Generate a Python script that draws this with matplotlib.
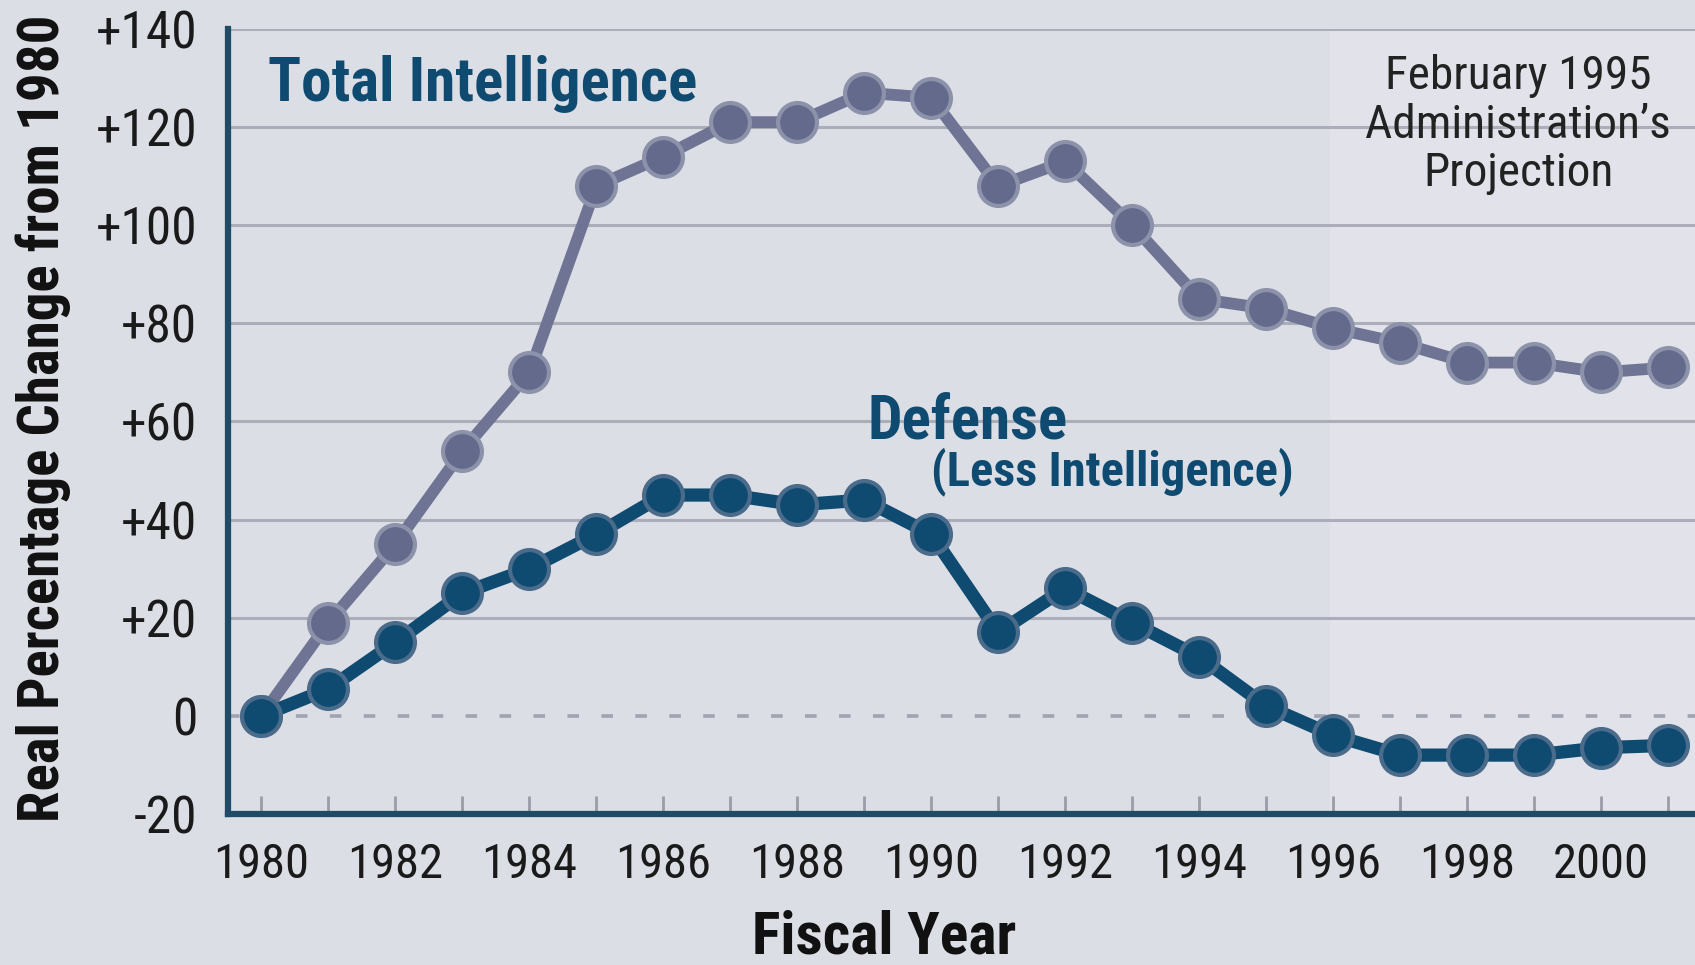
import matplotlib
matplotlib.use("Agg")
import matplotlib.pyplot as plt
from matplotlib import font_manager

# real percentage change from 1980, by fiscal year
years = list(range(1980, 2002))
total_intel = [0, 19, 35, 54, 70, 108, 114, 121, 121, 127, 126,
               108, 113, 100, 85, 83, 79, 76, 72, 72, 70, 71]
defense = [0, 5.5, 15, 25, 30, 37, 45, 45, 43, 44, 37,
           17, 26, 19, 12, 2, -4, -8, -8, -8, -6.5, -6]

yticks = [-20, 0, 20, 40, 60, 80, 100, 120, 140]
ytick_labels = ["-20", "0", "+20", "+40", "+60", "+80", "+100", "+120", "+140"]
xticks = list(range(1980, 2001, 2))

# pick a condensed face if one is installed
names = {f.name for f in font_manager.fontManager.ttflist}
narrow = "DejaVu Sans"
for cand in ["Liberation Sans Narrow", "DejaVu Sans Condensed", "Roboto Condensed"]:
    if cand in names:
        narrow = cand
        break
plt.rcParams["font.family"] = [narrow, "DejaVu Sans"]

bg = "#dcdee6"
navy = "#0f4a70"
spine_c = "#1f4b66"
grey_line = "#6f7494"

fig = plt.figure(figsize=(16.95, 9.65), dpi=100, facecolor=bg)
ax = fig.add_axes([0.1345, 0.1565, 0.8655, 0.8135])
ax.set_facecolor(bg)
ax.set_xlim(1979.5, 2001.4)
ax.set_ylim(-20, 140)

# lighter band for the projected years
ax.axvspan(1995.95, 2001.4, color="#e2e3ea", zorder=0, lw=0)

for v in range(20, 141, 20):
    ax.axhline(v, color="#abadb8", lw=2.2, zorder=1)
ax.axhline(0, color="#a0a3b0", lw=2.6, dashes=(3.2, 6.2), zorder=1)

ax.plot(years, total_intel, color=grey_line, lw=8.5, zorder=3,
        marker="o", ms=28, mfc="#646a8c", mec="#8d92ab", mew=3)
ax.plot(years, defense, color=navy, lw=9.5, zorder=4,
        marker="o", ms=28, mfc=navy, mec="#4a6b8a", mew=3)

for s in ["top", "right"]:
    ax.spines[s].set_visible(False)
ax.spines["left"].set_color(spine_c)
ax.spines["left"].set_linewidth(4.5)
ax.spines["bottom"].set_color(spine_c)
ax.spines["bottom"].set_linewidth(4.5)

ax.set_yticks(yticks)
ax.set_yticklabels(ytick_labels)
ax.tick_params(axis="y", length=0, pad=22, labelsize=37, labelcolor="#1a1a1a")
ax.set_xticks(years, minor=True)
ax.set_xticks(xticks)
ax.tick_params(axis="x", which="both", direction="in", length=13, width=2,
               color="#9a9ca8", pad=20, labelsize=35, labelcolor="#1a1a1a")

ax.text(1980.1, 125.3, "Total Intelligence", fontsize=44, fontweight="bold",
        color=navy, ha="left", va="baseline", zorder=5)
ax.text(1989.05, 56.5, "Defense", fontsize=44, fontweight="bold",
        color=navy, ha="left", va="baseline", zorder=5)
ax.text(1990.0, 47, "(Less Intelligence)", fontsize=35, fontweight="bold",
        color=navy, ha="left", va="baseline", zorder=5)
ax.text(1998.76, 120.5, "February 1995\nAdministration\u2019s\nProjection",
        fontsize=34, color="#222222", ha="center", va="center",
        linespacing=1.12, zorder=5)

fig.text(0.0254, 0.567, "Real Percentage Change from 1980", rotation=90,
         fontsize=41, fontweight="bold", color="#111111",
         ha="center", va="center")
fig.text(0.5218, 0.028, "Fiscal Year", fontsize=43, fontweight="bold",
         color="#111111", ha="center", va="center")

fig.savefig("out.png", dpi=100, facecolor=bg)
